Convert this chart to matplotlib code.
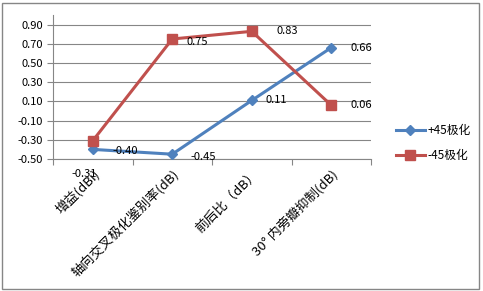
import matplotlib.pyplot as plt
from matplotlib.patches import Rectangle

plt.rcParams['font.family'] = ['Noto Sans CJK SC', 'DejaVu Sans']

# 数据
categories = ["增益(dBi)", "轴向交叉极化鉴别率(dB)", "前后比（dB）", "30° 内旁瓣抑制(dB)"]
plus45 = [-0.40, -0.45, 0.11, 0.66]
minus45 = [-0.31, 0.75, 0.83, 0.06]
yticks = [-0.50, -0.30, -0.10, 0.10, 0.30, 0.50, 0.70, 0.90]

fig = plt.figure(figsize=(4.83, 2.91), dpi=100)
ax = fig.add_axes([53 / 483, 1 - 159 / 291, 318 / 483, 144 / 291])

x = range(len(categories))
ax.plot(x, plus45, color="#4F81BD", lw=2.2, marker="D", ms=5, label="+45极化", zorder=3)
ax.plot(x, minus45, color="#C0504D", lw=2.2, marker="s", ms=7, label="-45极化", zorder=3)

# 数据标签
off_blue = [(14, -1), (13, -2), (10, 0), (14, 0)]
off_red = [(-15, -24), (10, -2), (18, 0), (14, 0)]
for i, v in enumerate(plus45):
    ax.annotate(f"{v:.2f}", (i, v), xytext=off_blue[i], textcoords="offset points",
                fontsize=8, va="center", ha="left", zorder=4)
for i, v in enumerate(minus45):
    ax.annotate(f"{v:.2f}", (i, v), xytext=off_red[i], textcoords="offset points",
                fontsize=8, va="center", ha="left", zorder=4)

ax.set_xlim(-0.5, len(categories) - 0.5)
ax.set_ylim(-0.5, 1.0)
ax.set_yticks(yticks)
ax.set_yticklabels([f"{t:.2f}" for t in yticks], fontsize=8)
ax.set_xticks([i - 0.5 for i in range(len(categories) + 1)])
ax.set_xticklabels([])
ax.tick_params(axis="x", length=4, color="#868686", direction="out")
ax.tick_params(axis="y", length=4, color="#868686", direction="out", pad=3)

# 类别标签（45度旋转）
for i, c in enumerate(categories):
    ax.annotate(c, (i, -0.5), xytext=(0, -6), textcoords="offset points",
                rotation=45, ha="right", va="top", rotation_mode="anchor", fontsize=9.5)

ax.yaxis.grid(True, color="#868686", lw=0.8)
ax.set_axisbelow(True)
for s in ["top", "right"]:
    ax.spines[s].set_visible(False)
ax.spines["left"].set_color("#868686")
ax.spines["bottom"].set_color("#868686")

fig.legend(loc="center left", bbox_to_anchor=(385 / 483, 1 - 143 / 291), frameon=False,
           fontsize=8.5, handlelength=2.5, labelspacing=1.0, handletextpad=0.2)

fig.patches.append(Rectangle((2 / 483, 2 / 291), 477 / 483, 286 / 291, transform=fig.transFigure,
                             fill=False, edgecolor="#868686", lw=1))

fig.savefig("out.png", dpi=100)
